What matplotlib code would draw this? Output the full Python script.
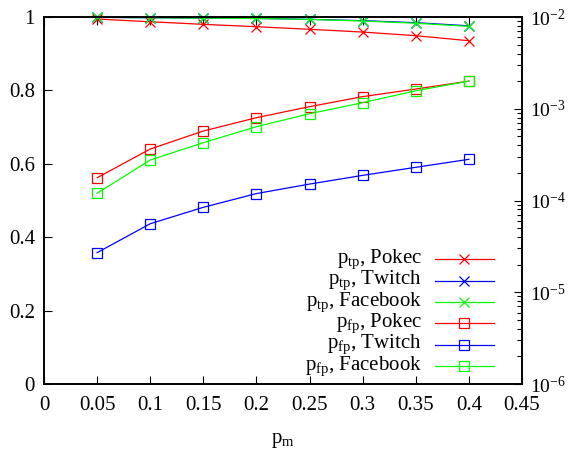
import matplotlib
matplotlib.use("Agg")
import matplotlib.pyplot as plt
from matplotlib.ticker import LogLocator, FixedLocator, NullFormatter

plt.rcParams["font.family"] = ["Liberation Serif", "DejaVu Serif"]
plt.rcParams["mathtext.fontset"] = "custom"
plt.rcParams["mathtext.rm"] = "Liberation Serif"
plt.rcParams["mathtext.it"] = "Liberation Serif:italic"

# Mutation probability
p_m = [0.05, 0.10, 0.15, 0.20, 0.25, 0.30, 0.35, 0.40]

# True-positive probability (left, linear axis)
ptp_pokec = [0.9945, 0.987, 0.980, 0.9736, 0.9665, 0.959, 0.949, 0.9354]
ptp_twitch = [0.999, 0.998, 0.997, 0.996, 0.9937, 0.990, 0.9845, 0.976]
ptp_facebook = [0.999, 0.998, 0.997, 0.996, 0.9935, 0.989, 0.983, 0.9745]

# False-positive probability (right, log axis)
pfp_pokec = [1.77e-4, 3.64e-4, 5.72e-4, 7.99e-4, 1.054e-3, 1.355e-3, 1.64e-3, 2.0e-3]
pfp_twitch = [2.70e-5, 5.58e-5, 8.43e-5, 1.19e-4, 1.51e-4, 1.88e-4, 2.30e-4, 2.81e-4]
pfp_facebook = [1.20e-4, 2.76e-4, 4.27e-4, 6.38e-4, 8.83e-4, 1.164e-3, 1.57e-3, 2.0e-3]

x_ticks = [0, 0.05, 0.1, 0.15, 0.2, 0.25, 0.3, 0.35, 0.4, 0.45]
x_tick_labels = ["0", "0.05", "0.1", "0.15", "0.2", "0.25", "0.3", "0.35", "0.4", "0.45"]
y_ticks = [0, 0.2, 0.4, 0.6, 0.8, 1.0]
y_tick_labels = ["0", "0.2", "0.4", "0.6", "0.8", "1"]
y2_ticks = [1e-6, 1e-5, 1e-4, 1e-3, 1e-2]
y2_tick_labels = [r"$\mathrm{10^{-6}}$", r"$\mathrm{10^{-5}}$", r"$\mathrm{10^{-4}}$",
                  r"$\mathrm{10^{-3}}$", r"$\mathrm{10^{-2}}$"]

RED, BLUE, GREEN = "#ff0000", "#0000ff", "#00ff00"
FS = 15

fig = plt.figure(figsize=(5.69, 4.51), dpi=100)
ax = fig.add_axes([44 / 569, 67 / 451, 478 / 569, 367 / 451])
ax2 = ax.twinx()

lw = 0.9
ms = 7
tp_series = [(ptp_pokec, RED), (ptp_twitch, BLUE), (ptp_facebook, GREEN)]
fp_series = [(pfp_pokec, RED), (pfp_twitch, BLUE), (pfp_facebook, GREEN)]

for vals, c in tp_series:
    ax.plot(p_m, vals, color=c, lw=lw, marker="x", ms=ms, mew=lw, clip_on=False)
for vals, c in fp_series:
    ax2.plot(p_m, vals, color=c, lw=lw, marker="s", ms=ms, mew=lw,
             mfc="none", clip_on=False)

ax.set_xlim(0, 0.45)
ax.set_ylim(0, 1)
ax2.set_yscale("log")
ax2.set_ylim(1e-6, 1e-2)

ax.set_xticks(x_ticks)
ax.set_xticklabels(x_tick_labels)
ax.set_yticks(y_ticks)
ax.set_yticklabels(y_tick_labels)
ax2.yaxis.set_major_locator(FixedLocator(y2_ticks))
ax2.set_yticklabels(y2_tick_labels)
ax2.yaxis.set_minor_locator(LogLocator(base=10, subs=range(2, 10)))
ax2.yaxis.set_minor_formatter(NullFormatter())

ax.tick_params(axis="x", direction="in", length=6, width=0.8, top=True,
               labelsize=FS, pad=9)
ax.tick_params(axis="y", direction="in", length=6, width=0.8, right=False,
               labelsize=FS, pad=6.5)
ax2.tick_params(axis="y", which="major", direction="in", length=6, width=0.8,
                labelsize=14, pad=6)
ax2.tick_params(axis="y", which="minor", direction="in", length=3.5, width=0.8)
for a in (ax, ax2):
    for s in a.spines.values():
        s.set_linewidth(1.2)

ax.set_xlabel(r"$\mathrm{p_m}$", fontsize=FS, labelpad=11)

# Key: right-aligned text followed by a line sample with its marker
labels = [r"$\mathrm{p_{tp}}$, Pokec", r"$\mathrm{p_{tp}}$, Twitch",
          r"$\mathrm{p_{tp}}$, Facebook", r"$\mathrm{p_{fp}}$, Pokec",
          r"$\mathrm{p_{fp}}$, Twitch", r"$\mathrm{p_{fp}}$, Facebook"]
styles = [(RED, "x"), (BLUE, "x"), (GREEN, "x"), (RED, "s"), (BLUE, "s"), (GREEN, "s")]
tr = ax.transAxes
for i, (lab, (c, m)) in enumerate(zip(labels, styles)):
    y = (384 - (259.3 + 21.3 * i)) / 367
    ax.text((422 - 44) / 478, y, lab, ha="right", va="center", fontsize=FS,
            transform=tr)
    ax.plot([(435 - 44) / 478, (494 - 44) / 478], [y, y], color=c, lw=lw,
            transform=tr, clip_on=False)
    ax.plot([(464 - 44) / 478], [y], color=c, marker=m, ms=ms, mew=lw,
            mfc="none", transform=tr, clip_on=False)

fig.savefig("out.png", dpi=100)
